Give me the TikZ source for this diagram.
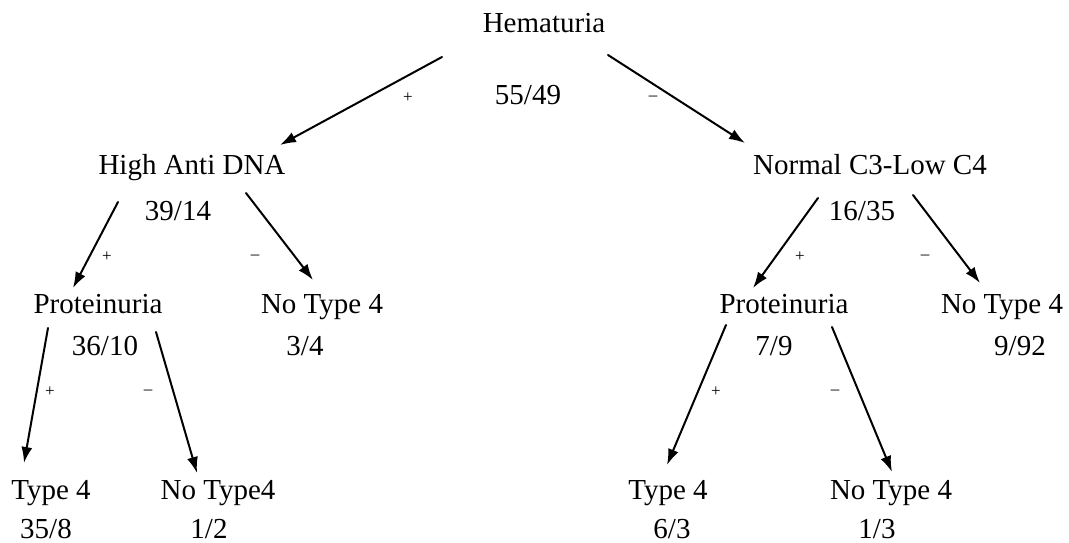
\documentclass[tikz,border=0pt]{standalone}
\usepackage{fontspec}
\setmainfont{Liberation Serif}
\usepackage{tikz}
\usetikzlibrary{arrows.meta}

\begin{document}
\begin{tikzpicture}[x=1pt,y=-1pt,line cap=round,
  lbl/.style={anchor=base,inner sep=0pt,font=\fontsize{29}{31}\selectfont},
  sgn/.style={inner sep=0pt,font=\fontsize{17}{19}\selectfont},
  arr/.style={line width=2pt,-{Latex[length=16pt,width=11pt]}}]
\useasboundingbox (0,0) rectangle (1069,543);
% root
\node[lbl] (hema) at (544,33) {Hematuria};
\node[lbl] (hemaN) at (528,105) {55/49};
% level 1
\node[lbl] (had) at (192,174) {High Anti DNA};
\node[lbl] (hadN) at (178,220) {39/14};
\node[lbl] (nc) at (870,174) {Normal C3-Low C4};
\node[lbl] (ncN) at (862,220) {16/35};
% level 2
\node[lbl] (protL) at (98,313) {Proteinuria};
\node[lbl] (protLN) at (105,355) {36/10};
\node[lbl] (ntA) at (322,313) {No Type 4};
\node[lbl] (ntAN) at (305,355) {3/4};
\node[lbl] (protR) at (784,313) {Proteinuria};
\node[lbl] (protRN) at (774,355) {7/9};
\node[lbl] (ntB) at (1002,313) {No Type 4};
\node[lbl] (ntBN) at (1020,355) {9/92};
% leaves
\node[lbl] (t4L) at (51,499) {Type 4};
\node[lbl] (t4LN) at (46,538) {35/8};
\node[lbl] (ntC) at (218,499) {No Type4};
\node[lbl] (ntCN) at (209,538) {1/2};
\node[lbl] (t4R) at (668,499) {Type 4};
\node[lbl] (t4RN) at (672,538) {6/3};
\node[lbl] (ntD) at (891,499) {No Type 4};
\node[lbl] (ntDN) at (877,538) {1/3};
% signs
\node[sgn] (pA) at (408,98) {+};
\node[sgn] (mA) at (653,98) {–};
\node[sgn] (pB) at (107,257) {+};
\node[sgn] (mB) at (255,257) {–};
\node[sgn] (pC) at (800,257) {+};
\node[sgn] (mC) at (925,257) {–};
\node[sgn] (pD) at (50,392) {+};
\node[sgn] (mD) at (148,392) {–};
\node[sgn] (pE) at (716,392) {+};
\node[sgn] (mE) at (835,392) {–};
% arrows
\draw[arr] ([shift={(-102,24)}]hema.base) -- ([shift={(88,-29)}]had.base);
\draw[arr] ([shift={(64,22)}]hema.base) -- ([shift={(-125,-31)}]nc.base);
\draw[arr] ([shift={(-74,28)}]had.base) -- ([shift={(-25,-25)}]protL.base);
\draw[arr] ([shift={(54,19)}]had.base) -- ([shift={(-9,-33)}]ntA.base);
\draw[arr] ([shift={(-52,24)}]nc.base) -- ([shift={(-31,-25)}]protR.base);
\draw[arr] ([shift={(43,21)}]nc.base) -- ([shift={(-22,-30)}]ntB.base);
\draw[arr] ([shift={(-50,15)}]protL.base) -- ([shift={(-27,-36)}]t4L.base);
\draw[arr] ([shift={(58,19)}]protL.base) -- ([shift={(-21,-26)}]ntC.base);
\draw[arr] ([shift={(-58,12)}]protR.base) -- ([shift={(-1,-34)}]t4R.base);
\draw[arr] ([shift={(48,14)}]protR.base) -- ([shift={(1,-27)}]ntD.base);
\end{tikzpicture}
\end{document}
